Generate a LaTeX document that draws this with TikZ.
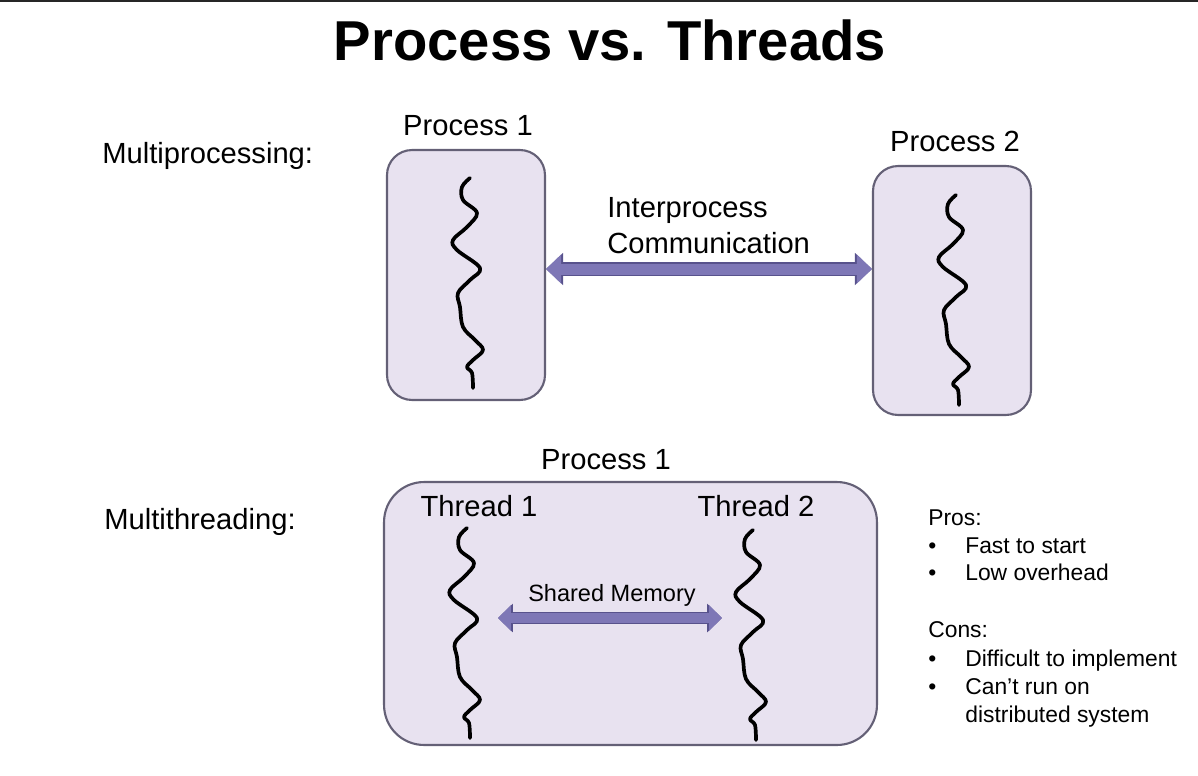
\documentclass[tikz,border=0pt]{standalone}
\usepackage{fontspec}
\setmainfont{Liberation Sans}
\usetikzlibrary{arrows.meta}

\definecolor{boxfill}{RGB}{232,226,240}
\definecolor{boxedge}{RGB}{100,96,118}
\definecolor{arrowfill}{RGB}{126,119,182}
\definecolor{arrowedge}{RGB}{88,82,140}

\tikzset{
  procbox/.style={draw=boxedge, fill=boxfill, line width=1.2pt, rounded corners=0.5cm, inner sep=0},
  heading/.style={font=\fontsize{16.6}{20}\selectfont, inner sep=0},
  listtext/.style={font=\fontsize{13}{15}\selectfont, inner sep=0, anchor=base west},
  thread/.style={line width=2.1pt, line cap=round, line join=round},
  ipcarrow/.style={draw=arrowfill, line width=0.22cm,
    {Triangle[width=0.56cm,length=0.3cm,fill=arrowfill]}-{Triangle[width=0.56cm,length=0.3cm,fill=arrowfill]},
    preaction={draw=arrowedge, line width=0.27cm,
      {Triangle[width=0.62cm,length=0.34cm,fill=arrowedge]}-{Triangle[width=0.62cm,length=0.34cm,fill=arrowedge]}}},
  shmarrow/.style={draw=arrowfill, line width=0.19cm,
    {Triangle[width=0.5cm,length=0.26cm,fill=arrowfill]}-{Triangle[width=0.5cm,length=0.26cm,fill=arrowfill]},
    preaction={draw=arrowedge, line width=0.24cm,
      {Triangle[width=0.56cm,length=0.3cm,fill=arrowedge]}-{Triangle[width=0.56cm,length=0.3cm,fill=arrowedge]}}}
}

% one wavy thread, drawn from its top end
\newcommand{\wiggle}[1]{%
  \draw[thread, shift={#1}] plot[smooth, tension=0.6] coordinates {
    (0,0) (-8,9) (-7,22) (7,35) (-3,49) (-17,62) (-13,72) (10,90) (0,102)
    (-12,115) (-10,129) (-7,149) (5,162) (13,172) (3,182) (-3,189) (2,195) (3,210)};}

\begin{document}
\begin{tikzpicture}[x=0.02cm, y=-0.02cm]
  \useasboundingbox (0,0) rectangle (1198,775);
  \draw[line width=1.2pt, black!85] (0,0.6) -- (1198,0.6);

  \node[font=\bfseries\fontsize{32}{38}\selectfont, inner sep=0, anchor=base] (title) at (610,60) {Process vs. Threads};

  % multiprocessing
  \node[heading, anchor=base west] (mp) at (102,163) {Multiprocessing:};
  \node[procbox, minimum width=3.16cm, minimum height=5cm] (proc1) at (466,275) {};
  \node[procbox, minimum width=3.16cm, minimum height=4.98cm] (proc2) at (952,290.5) {};
  \node[heading, anchor=base] (p1lbl) at (468,135) {Process 1};
  \node[heading, anchor=base] (p2lbl) at (955,151) {Process 2};
  \wiggle{(470,178)}
  \wiggle{(956,195)}
  \node[heading, anchor=base west, align=left] (ipc) at (607,217) {Interprocess};
  \node[heading, anchor=base west] (ipc2) at (607,253) {Communication};
  \draw[ipcarrow] (proc1.east |- 0,269) -- (proc2.west |- 0,269);

  % multithreading
  \node[heading, anchor=base west] (mt) at (104,529) {Multithreading:};
  \node[procbox, rounded corners=0.8cm, minimum width=9.86cm, minimum height=5.26cm] (mtproc) at (630.5,613.5) {};
  \node[heading, anchor=base] (mtlbl) at (606,469) {Process 1};
  \node[heading, anchor=base] (t1lbl) at (479,516) {Thread 1};
  \node[heading, anchor=base] (t2lbl) at (756,516) {Thread 2};
  \wiggle{(467,528)}
  \wiggle{(753,530)}
  \coordinate (t1) at (470,618);
  \coordinate (t2) at (745,618);
  \node[font=\fontsize{13.4}{16}\selectfont, inner sep=0, anchor=base] (shm) at (612,601) {Shared Memory};
  \draw[shmarrow, shorten <=0.56cm, shorten >=0.46cm] (t1) -- (t2);

  % pros and cons
  \node[listtext] (pros) at (928,525) {Pros:};
  \node[listtext] (pro1) at (928,553) {\makebox[0.74cm][l]{\textbullet}Fast to start};
  \node[listtext] (pro2) at (928,580) {\makebox[0.74cm][l]{\textbullet}Low overhead};
  \node[listtext] (cons) at (928,637) {Cons:};
  \node[listtext] (con1) at (928,666) {\makebox[0.74cm][l]{\textbullet}Difficult to implement};
  \node[listtext] (con2) at (928,694) {\makebox[0.74cm][l]{\textbullet}Can’t run on};
  \node[listtext] (con3) at (965,722) {distributed system};
\end{tikzpicture}
\end{document}
